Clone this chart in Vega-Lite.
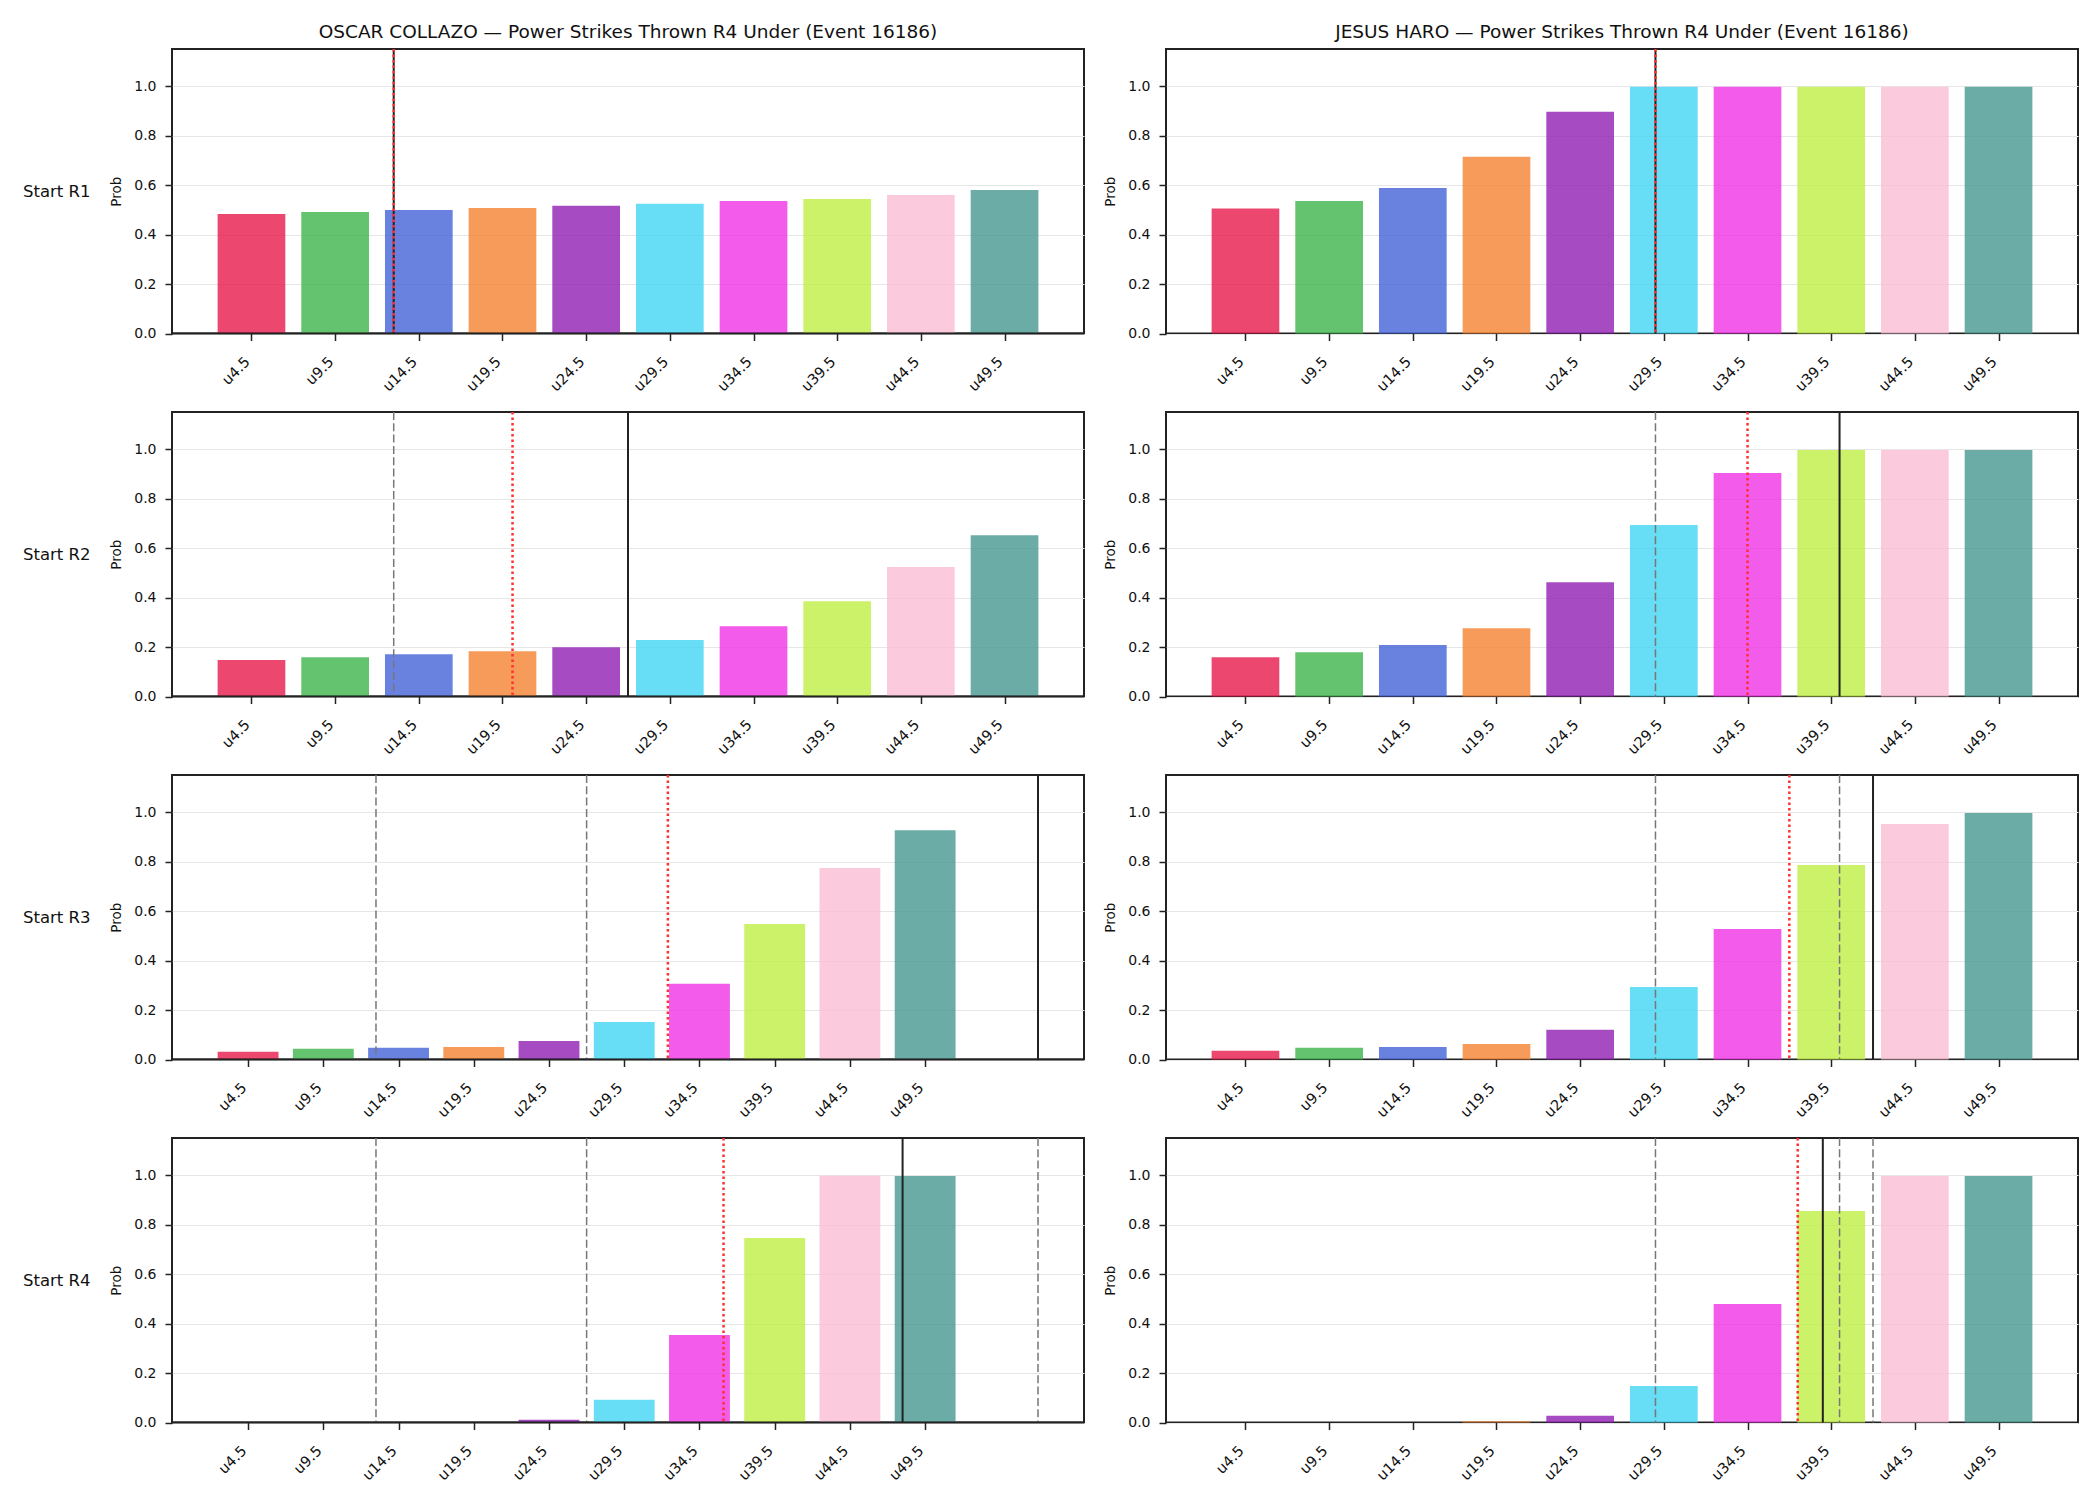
{
  "$schema": "https://vega.github.io/schema/vega-lite/v6.json",
  "padding": {"left": 21, "top": 22, "right": 10, "bottom": 10},
  "background": "white",
  "datasets": {
    "bars": [
      {"player": "OSCAR COLLAZO", "round": "R1", "bucket": "u4.5", "line": 4.5, "prob": 0.483},
      {"player": "OSCAR COLLAZO", "round": "R1", "bucket": "u9.5", "line": 9.5, "prob": 0.491},
      {"player": "OSCAR COLLAZO", "round": "R1", "bucket": "u14.5", "line": 14.5, "prob": 0.499},
      {"player": "OSCAR COLLAZO", "round": "R1", "bucket": "u19.5", "line": 19.5, "prob": 0.507},
      {"player": "OSCAR COLLAZO", "round": "R1", "bucket": "u24.5", "line": 24.5, "prob": 0.516},
      {"player": "OSCAR COLLAZO", "round": "R1", "bucket": "u29.5", "line": 29.5, "prob": 0.524},
      {"player": "OSCAR COLLAZO", "round": "R1", "bucket": "u34.5", "line": 34.5, "prob": 0.536},
      {"player": "OSCAR COLLAZO", "round": "R1", "bucket": "u39.5", "line": 39.5, "prob": 0.544},
      {"player": "OSCAR COLLAZO", "round": "R1", "bucket": "u44.5", "line": 44.5, "prob": 0.560},
      {"player": "OSCAR COLLAZO", "round": "R1", "bucket": "u49.5", "line": 49.5, "prob": 0.580},
      {"player": "OSCAR COLLAZO", "round": "R2", "bucket": "u4.5", "line": 4.5, "prob": 0.148},
      {"player": "OSCAR COLLAZO", "round": "R2", "bucket": "u9.5", "line": 9.5, "prob": 0.159},
      {"player": "OSCAR COLLAZO", "round": "R2", "bucket": "u14.5", "line": 14.5, "prob": 0.171},
      {"player": "OSCAR COLLAZO", "round": "R2", "bucket": "u19.5", "line": 19.5, "prob": 0.183},
      {"player": "OSCAR COLLAZO", "round": "R2", "bucket": "u24.5", "line": 24.5, "prob": 0.199},
      {"player": "OSCAR COLLAZO", "round": "R2", "bucket": "u29.5", "line": 29.5, "prob": 0.228},
      {"player": "OSCAR COLLAZO", "round": "R2", "bucket": "u34.5", "line": 34.5, "prob": 0.284},
      {"player": "OSCAR COLLAZO", "round": "R2", "bucket": "u39.5", "line": 39.5, "prob": 0.385},
      {"player": "OSCAR COLLAZO", "round": "R2", "bucket": "u44.5", "line": 44.5, "prob": 0.523},
      {"player": "OSCAR COLLAZO", "round": "R2", "bucket": "u49.5", "line": 49.5, "prob": 0.652},
      {"player": "OSCAR COLLAZO", "round": "R3", "bucket": "u4.5", "line": 4.5, "prob": 0.031},
      {"player": "OSCAR COLLAZO", "round": "R3", "bucket": "u9.5", "line": 9.5, "prob": 0.043},
      {"player": "OSCAR COLLAZO", "round": "R3", "bucket": "u14.5", "line": 14.5, "prob": 0.047},
      {"player": "OSCAR COLLAZO", "round": "R3", "bucket": "u19.5", "line": 19.5, "prob": 0.051},
      {"player": "OSCAR COLLAZO", "round": "R3", "bucket": "u24.5", "line": 24.5, "prob": 0.075},
      {"player": "OSCAR COLLAZO", "round": "R3", "bucket": "u29.5", "line": 29.5, "prob": 0.152},
      {"player": "OSCAR COLLAZO", "round": "R3", "bucket": "u34.5", "line": 34.5, "prob": 0.306},
      {"player": "OSCAR COLLAZO", "round": "R3", "bucket": "u39.5", "line": 39.5, "prob": 0.548},
      {"player": "OSCAR COLLAZO", "round": "R3", "bucket": "u44.5", "line": 44.5, "prob": 0.774},
      {"player": "OSCAR COLLAZO", "round": "R3", "bucket": "u49.5", "line": 49.5, "prob": 0.927},
      {"player": "OSCAR COLLAZO", "round": "R4", "bucket": "u4.5", "line": 4.5, "prob": 0.0},
      {"player": "OSCAR COLLAZO", "round": "R4", "bucket": "u9.5", "line": 9.5, "prob": 0.0},
      {"player": "OSCAR COLLAZO", "round": "R4", "bucket": "u14.5", "line": 14.5, "prob": 0.0},
      {"player": "OSCAR COLLAZO", "round": "R4", "bucket": "u19.5", "line": 19.5, "prob": 0.002},
      {"player": "OSCAR COLLAZO", "round": "R4", "bucket": "u24.5", "line": 24.5, "prob": 0.011},
      {"player": "OSCAR COLLAZO", "round": "R4", "bucket": "u29.5", "line": 29.5, "prob": 0.092},
      {"player": "OSCAR COLLAZO", "round": "R4", "bucket": "u34.5", "line": 34.5, "prob": 0.354},
      {"player": "OSCAR COLLAZO", "round": "R4", "bucket": "u39.5", "line": 39.5, "prob": 0.746},
      {"player": "OSCAR COLLAZO", "round": "R4", "bucket": "u44.5", "line": 44.5, "prob": 0.997},
      {"player": "OSCAR COLLAZO", "round": "R4", "bucket": "u49.5", "line": 49.5, "prob": 0.996},
      {"player": "JESUS HARO", "round": "R1", "bucket": "u4.5", "line": 4.5, "prob": 0.505},
      {"player": "JESUS HARO", "round": "R1", "bucket": "u9.5", "line": 9.5, "prob": 0.536},
      {"player": "JESUS HARO", "round": "R1", "bucket": "u14.5", "line": 14.5, "prob": 0.588},
      {"player": "JESUS HARO", "round": "R1", "bucket": "u19.5", "line": 19.5, "prob": 0.714},
      {"player": "JESUS HARO", "round": "R1", "bucket": "u24.5", "line": 24.5, "prob": 0.896},
      {"player": "JESUS HARO", "round": "R1", "bucket": "u29.5", "line": 29.5, "prob": 0.997},
      {"player": "JESUS HARO", "round": "R1", "bucket": "u34.5", "line": 34.5, "prob": 0.997},
      {"player": "JESUS HARO", "round": "R1", "bucket": "u39.5", "line": 39.5, "prob": 0.997},
      {"player": "JESUS HARO", "round": "R1", "bucket": "u44.5", "line": 44.5, "prob": 0.997},
      {"player": "JESUS HARO", "round": "R1", "bucket": "u49.5", "line": 49.5, "prob": 0.997},
      {"player": "JESUS HARO", "round": "R2", "bucket": "u4.5", "line": 4.5, "prob": 0.159},
      {"player": "JESUS HARO", "round": "R2", "bucket": "u9.5", "line": 9.5, "prob": 0.179},
      {"player": "JESUS HARO", "round": "R2", "bucket": "u14.5", "line": 14.5, "prob": 0.208},
      {"player": "JESUS HARO", "round": "R2", "bucket": "u19.5", "line": 19.5, "prob": 0.276},
      {"player": "JESUS HARO", "round": "R2", "bucket": "u24.5", "line": 24.5, "prob": 0.462},
      {"player": "JESUS HARO", "round": "R2", "bucket": "u29.5", "line": 29.5, "prob": 0.693},
      {"player": "JESUS HARO", "round": "R2", "bucket": "u34.5", "line": 34.5, "prob": 0.903},
      {"player": "JESUS HARO", "round": "R2", "bucket": "u39.5", "line": 39.5, "prob": 0.996},
      {"player": "JESUS HARO", "round": "R2", "bucket": "u44.5", "line": 44.5, "prob": 0.996},
      {"player": "JESUS HARO", "round": "R2", "bucket": "u49.5", "line": 49.5, "prob": 0.996},
      {"player": "JESUS HARO", "round": "R3", "bucket": "u4.5", "line": 4.5, "prob": 0.035},
      {"player": "JESUS HARO", "round": "R3", "bucket": "u9.5", "line": 9.5, "prob": 0.047},
      {"player": "JESUS HARO", "round": "R3", "bucket": "u14.5", "line": 14.5, "prob": 0.051},
      {"player": "JESUS HARO", "round": "R3", "bucket": "u19.5", "line": 19.5, "prob": 0.063},
      {"player": "JESUS HARO", "round": "R3", "bucket": "u24.5", "line": 24.5, "prob": 0.120},
      {"player": "JESUS HARO", "round": "R3", "bucket": "u29.5", "line": 29.5, "prob": 0.293},
      {"player": "JESUS HARO", "round": "R3", "bucket": "u34.5", "line": 34.5, "prob": 0.528},
      {"player": "JESUS HARO", "round": "R3", "bucket": "u39.5", "line": 39.5, "prob": 0.786},
      {"player": "JESUS HARO", "round": "R3", "bucket": "u44.5", "line": 44.5, "prob": 0.952},
      {"player": "JESUS HARO", "round": "R3", "bucket": "u49.5", "line": 49.5, "prob": 0.996},
      {"player": "JESUS HARO", "round": "R4", "bucket": "u4.5", "line": 4.5, "prob": 0.0},
      {"player": "JESUS HARO", "round": "R4", "bucket": "u9.5", "line": 9.5, "prob": 0.0},
      {"player": "JESUS HARO", "round": "R4", "bucket": "u14.5", "line": 14.5, "prob": 0.0},
      {"player": "JESUS HARO", "round": "R4", "bucket": "u19.5", "line": 19.5, "prob": 0.005},
      {"player": "JESUS HARO", "round": "R4", "bucket": "u24.5", "line": 24.5, "prob": 0.027},
      {"player": "JESUS HARO", "round": "R4", "bucket": "u29.5", "line": 29.5, "prob": 0.148},
      {"player": "JESUS HARO", "round": "R4", "bucket": "u34.5", "line": 34.5, "prob": 0.479},
      {"player": "JESUS HARO", "round": "R4", "bucket": "u39.5", "line": 39.5, "prob": 0.855},
      {"player": "JESUS HARO", "round": "R4", "bucket": "u44.5", "line": 44.5, "prob": 0.996},
      {"player": "JESUS HARO", "round": "R4", "bucket": "u49.5", "line": 49.5, "prob": 0.996}
    ],
    "lines": [
      {"player": "OSCAR COLLAZO", "round": "R1", "kind": "current", "x": 13},
      {"player": "OSCAR COLLAZO", "round": "R1", "kind": "projected", "x": 13},
      {"player": "OSCAR COLLAZO", "round": "R2", "kind": "previous", "x": 13},
      {"player": "OSCAR COLLAZO", "round": "R2", "kind": "projected", "x": 20.1},
      {"player": "OSCAR COLLAZO", "round": "R2", "kind": "current", "x": 27},
      {"player": "OSCAR COLLAZO", "round": "R3", "kind": "previous", "x": 13},
      {"player": "OSCAR COLLAZO", "round": "R3", "kind": "previous", "x": 27},
      {"player": "OSCAR COLLAZO", "round": "R3", "kind": "projected", "x": 32.4},
      {"player": "OSCAR COLLAZO", "round": "R3", "kind": "current", "x": 57},
      {"player": "OSCAR COLLAZO", "round": "R4", "kind": "previous", "x": 13},
      {"player": "OSCAR COLLAZO", "round": "R4", "kind": "previous", "x": 27},
      {"player": "OSCAR COLLAZO", "round": "R4", "kind": "previous", "x": 57},
      {"player": "OSCAR COLLAZO", "round": "R4", "kind": "projected", "x": 36.1},
      {"player": "OSCAR COLLAZO", "round": "R4", "kind": "current", "x": 48},
      {"player": "JESUS HARO", "round": "R1", "kind": "current", "x": 29},
      {"player": "JESUS HARO", "round": "R1", "kind": "projected", "x": 29},
      {"player": "JESUS HARO", "round": "R2", "kind": "previous", "x": 29},
      {"player": "JESUS HARO", "round": "R2", "kind": "projected", "x": 34.5},
      {"player": "JESUS HARO", "round": "R2", "kind": "current", "x": 40},
      {"player": "JESUS HARO", "round": "R3", "kind": "previous", "x": 29},
      {"player": "JESUS HARO", "round": "R3", "kind": "previous", "x": 40},
      {"player": "JESUS HARO", "round": "R3", "kind": "projected", "x": 37},
      {"player": "JESUS HARO", "round": "R3", "kind": "current", "x": 42},
      {"player": "JESUS HARO", "round": "R4", "kind": "previous", "x": 29},
      {"player": "JESUS HARO", "round": "R4", "kind": "previous", "x": 40},
      {"player": "JESUS HARO", "round": "R4", "kind": "previous", "x": 42},
      {"player": "JESUS HARO", "round": "R4", "kind": "projected", "x": 37.5},
      {"player": "JESUS HARO", "round": "R4", "kind": "current", "x": 39}
    ]
  },
  "spacing": 14,
  "vconcat": [
    {
      "spacing": 16,
      "hconcat": [
        {
          "width": 912, "height": 284.5,
          "title": "OSCAR COLLAZO — Power Strikes Thrown R4 Under (Event 16186)",
          "resolve": {"axis": {"y": "independent"}},
          "layer": [
            {"data": {"name": "bars"}, "transform": [{"filter": "datum.player === 'OSCAR COLLAZO' && datum.round === 'R1'"}],
             "mark": {"type": "bar", "width": 67.7, "opacity": 0.8},
             "encoding": {
               "x": {"field": "line", "type": "quantitative", "title": null, "scale": {"domain": [0.05, 53.95], "nice": false, "zero": false}, "axis": {"values": [4.5, 9.5, 14.5, 19.5, 24.5, 29.5, 34.5, 39.5, 44.5, 49.5], "labelExpr": "'u' + datum.value"}},
               "y": {"field": "prob", "type": "quantitative", "title": "Prob", "scale": {"domain": [0, 1.15], "nice": false}},
               "color": {"field": "bucket", "type": "nominal", "legend": null, "scale": {"domain": ["u4.5", "u9.5", "u14.5", "u19.5", "u24.5", "u29.5", "u34.5", "u39.5", "u44.5", "u49.5"], "range": ["#e6194b", "#3cb44b", "#4363d8", "#f58231", "#911eb4", "#42d4f4", "#f032e6", "#bfef45", "#fabed4", "#469990"]}}
             }},
            {"data": {"name": "lines"}, "transform": [{"filter": "datum.player === 'OSCAR COLLAZO' && datum.round === 'R1' && datum.kind === 'previous'"}],
             "mark": {"type": "rule", "color": "#777777", "strokeWidth": 1.5, "strokeDash": [8, 3.3]},
             "encoding": {"x": {"field": "x", "type": "quantitative", "title": null}}},
            {"data": {"name": "lines"}, "transform": [{"filter": "datum.player === 'OSCAR COLLAZO' && datum.round === 'R1' && datum.kind === 'current'"}],
             "mark": {"type": "rule", "color": "#222222", "strokeWidth": 2},
             "encoding": {"x": {"field": "x", "type": "quantitative", "title": null}}},
            {"data": {"name": "lines"}, "transform": [{"filter": "datum.player === 'OSCAR COLLAZO' && datum.round === 'R1' && datum.kind === 'projected'"}],
             "mark": {"type": "rule", "color": "#ff3030", "strokeWidth": 2.5, "strokeDash": [2.5, 3]},
             "encoding": {"x": {"field": "x", "type": "quantitative", "title": null}}},
            {"data": {"values": [{}]}, "mark": {"type": "rule", "color": "#222222", "strokeWidth": 2},
             "encoding": {"y": {"datum": 0, "type": "quantitative", "axis": {"title": "Start R1", "orient": "left", "offset": 62, "minExtent": 0, "labels": false, "ticks": false, "domain": false, "grid": false, "titleAngle": 0, "titleAlign": "right", "titleBaseline": "middle", "titlePadding": 20, "titleFontSize": 16.5}}}}
          ]
        },
        {
          "width": 912, "height": 284.5,
          "title": "JESUS HARO — Power Strikes Thrown R4 Under (Event 16186)",
          "layer": [
            {"data": {"name": "bars"}, "transform": [{"filter": "datum.player === 'JESUS HARO' && datum.round === 'R1'"}],
             "mark": {"type": "bar", "width": 67.7, "opacity": 0.8},
             "encoding": {
               "x": {"field": "line", "type": "quantitative", "title": null, "scale": {"domain": [0.05, 53.95], "nice": false, "zero": false}, "axis": {"values": [4.5, 9.5, 14.5, 19.5, 24.5, 29.5, 34.5, 39.5, 44.5, 49.5], "labelExpr": "'u' + datum.value"}},
               "y": {"field": "prob", "type": "quantitative", "title": "Prob", "scale": {"domain": [0, 1.15], "nice": false}},
               "color": {"field": "bucket", "type": "nominal", "legend": null, "scale": {"domain": ["u4.5", "u9.5", "u14.5", "u19.5", "u24.5", "u29.5", "u34.5", "u39.5", "u44.5", "u49.5"], "range": ["#e6194b", "#3cb44b", "#4363d8", "#f58231", "#911eb4", "#42d4f4", "#f032e6", "#bfef45", "#fabed4", "#469990"]}}
             }},
            {"data": {"name": "lines"}, "transform": [{"filter": "datum.player === 'JESUS HARO' && datum.round === 'R1' && datum.kind === 'previous'"}],
             "mark": {"type": "rule", "color": "#777777", "strokeWidth": 1.5, "strokeDash": [8, 3.3]},
             "encoding": {"x": {"field": "x", "type": "quantitative", "title": null}}},
            {"data": {"name": "lines"}, "transform": [{"filter": "datum.player === 'JESUS HARO' && datum.round === 'R1' && datum.kind === 'current'"}],
             "mark": {"type": "rule", "color": "#222222", "strokeWidth": 2},
             "encoding": {"x": {"field": "x", "type": "quantitative", "title": null}}},
            {"data": {"name": "lines"}, "transform": [{"filter": "datum.player === 'JESUS HARO' && datum.round === 'R1' && datum.kind === 'projected'"}],
             "mark": {"type": "rule", "color": "#ff3030", "strokeWidth": 2.5, "strokeDash": [2.5, 3]},
             "encoding": {"x": {"field": "x", "type": "quantitative", "title": null}}}
          ]
        }
      ]
    },
    {
      "spacing": 16,
      "hconcat": [
        {
          "width": 912, "height": 284.5,
          "resolve": {"axis": {"y": "independent"}},
          "layer": [
            {"data": {"name": "bars"}, "transform": [{"filter": "datum.player === 'OSCAR COLLAZO' && datum.round === 'R2'"}],
             "mark": {"type": "bar", "width": 67.7, "opacity": 0.8},
             "encoding": {
               "x": {"field": "line", "type": "quantitative", "title": null, "scale": {"domain": [0.05, 53.95], "nice": false, "zero": false}, "axis": {"values": [4.5, 9.5, 14.5, 19.5, 24.5, 29.5, 34.5, 39.5, 44.5, 49.5], "labelExpr": "'u' + datum.value"}},
               "y": {"field": "prob", "type": "quantitative", "title": "Prob", "scale": {"domain": [0, 1.15], "nice": false}},
               "color": {"field": "bucket", "type": "nominal", "legend": null, "scale": {"domain": ["u4.5", "u9.5", "u14.5", "u19.5", "u24.5", "u29.5", "u34.5", "u39.5", "u44.5", "u49.5"], "range": ["#e6194b", "#3cb44b", "#4363d8", "#f58231", "#911eb4", "#42d4f4", "#f032e6", "#bfef45", "#fabed4", "#469990"]}}
             }},
            {"data": {"name": "lines"}, "transform": [{"filter": "datum.player === 'OSCAR COLLAZO' && datum.round === 'R2' && datum.kind === 'previous'"}],
             "mark": {"type": "rule", "color": "#777777", "strokeWidth": 1.5, "strokeDash": [8, 3.3]},
             "encoding": {"x": {"field": "x", "type": "quantitative", "title": null}}},
            {"data": {"name": "lines"}, "transform": [{"filter": "datum.player === 'OSCAR COLLAZO' && datum.round === 'R2' && datum.kind === 'current'"}],
             "mark": {"type": "rule", "color": "#222222", "strokeWidth": 2},
             "encoding": {"x": {"field": "x", "type": "quantitative", "title": null}}},
            {"data": {"name": "lines"}, "transform": [{"filter": "datum.player === 'OSCAR COLLAZO' && datum.round === 'R2' && datum.kind === 'projected'"}],
             "mark": {"type": "rule", "color": "#ff3030", "strokeWidth": 2.5, "strokeDash": [2.5, 3]},
             "encoding": {"x": {"field": "x", "type": "quantitative", "title": null}}},
            {"data": {"values": [{}]}, "mark": {"type": "rule", "color": "#222222", "strokeWidth": 2},
             "encoding": {"y": {"datum": 0, "type": "quantitative", "axis": {"title": "Start R2", "orient": "left", "offset": 62, "minExtent": 0, "labels": false, "ticks": false, "domain": false, "grid": false, "titleAngle": 0, "titleAlign": "right", "titleBaseline": "middle", "titlePadding": 20, "titleFontSize": 16.5}}}}
          ]
        },
        {
          "width": 912, "height": 284.5,
          "layer": [
            {"data": {"name": "bars"}, "transform": [{"filter": "datum.player === 'JESUS HARO' && datum.round === 'R2'"}],
             "mark": {"type": "bar", "width": 67.7, "opacity": 0.8},
             "encoding": {
               "x": {"field": "line", "type": "quantitative", "title": null, "scale": {"domain": [0.05, 53.95], "nice": false, "zero": false}, "axis": {"values": [4.5, 9.5, 14.5, 19.5, 24.5, 29.5, 34.5, 39.5, 44.5, 49.5], "labelExpr": "'u' + datum.value"}},
               "y": {"field": "prob", "type": "quantitative", "title": "Prob", "scale": {"domain": [0, 1.15], "nice": false}},
               "color": {"field": "bucket", "type": "nominal", "legend": null, "scale": {"domain": ["u4.5", "u9.5", "u14.5", "u19.5", "u24.5", "u29.5", "u34.5", "u39.5", "u44.5", "u49.5"], "range": ["#e6194b", "#3cb44b", "#4363d8", "#f58231", "#911eb4", "#42d4f4", "#f032e6", "#bfef45", "#fabed4", "#469990"]}}
             }},
            {"data": {"name": "lines"}, "transform": [{"filter": "datum.player === 'JESUS HARO' && datum.round === 'R2' && datum.kind === 'previous'"}],
             "mark": {"type": "rule", "color": "#777777", "strokeWidth": 1.5, "strokeDash": [8, 3.3]},
             "encoding": {"x": {"field": "x", "type": "quantitative", "title": null}}},
            {"data": {"name": "lines"}, "transform": [{"filter": "datum.player === 'JESUS HARO' && datum.round === 'R2' && datum.kind === 'current'"}],
             "mark": {"type": "rule", "color": "#222222", "strokeWidth": 2},
             "encoding": {"x": {"field": "x", "type": "quantitative", "title": null}}},
            {"data": {"name": "lines"}, "transform": [{"filter": "datum.player === 'JESUS HARO' && datum.round === 'R2' && datum.kind === 'projected'"}],
             "mark": {"type": "rule", "color": "#ff3030", "strokeWidth": 2.5, "strokeDash": [2.5, 3]},
             "encoding": {"x": {"field": "x", "type": "quantitative", "title": null}}}
          ]
        }
      ]
    },
    {
      "spacing": 16,
      "hconcat": [
        {
          "width": 912, "height": 284.5,
          "resolve": {"axis": {"y": "independent"}},
          "layer": [
            {"data": {"name": "bars"}, "transform": [{"filter": "datum.player === 'OSCAR COLLAZO' && datum.round === 'R3'"}],
             "mark": {"type": "bar", "width": 60.85, "opacity": 0.8},
             "encoding": {
               "x": {"field": "line", "type": "quantitative", "title": null, "scale": {"domain": [-0.225, 59.725], "nice": false, "zero": false}, "axis": {"values": [4.5, 9.5, 14.5, 19.5, 24.5, 29.5, 34.5, 39.5, 44.5, 49.5], "labelExpr": "'u' + datum.value"}},
               "y": {"field": "prob", "type": "quantitative", "title": "Prob", "scale": {"domain": [0, 1.15], "nice": false}},
               "color": {"field": "bucket", "type": "nominal", "legend": null, "scale": {"domain": ["u4.5", "u9.5", "u14.5", "u19.5", "u24.5", "u29.5", "u34.5", "u39.5", "u44.5", "u49.5"], "range": ["#e6194b", "#3cb44b", "#4363d8", "#f58231", "#911eb4", "#42d4f4", "#f032e6", "#bfef45", "#fabed4", "#469990"]}}
             }},
            {"data": {"name": "lines"}, "transform": [{"filter": "datum.player === 'OSCAR COLLAZO' && datum.round === 'R3' && datum.kind === 'previous'"}],
             "mark": {"type": "rule", "color": "#777777", "strokeWidth": 1.5, "strokeDash": [8, 3.3]},
             "encoding": {"x": {"field": "x", "type": "quantitative", "title": null}}},
            {"data": {"name": "lines"}, "transform": [{"filter": "datum.player === 'OSCAR COLLAZO' && datum.round === 'R3' && datum.kind === 'current'"}],
             "mark": {"type": "rule", "color": "#222222", "strokeWidth": 2},
             "encoding": {"x": {"field": "x", "type": "quantitative", "title": null}}},
            {"data": {"name": "lines"}, "transform": [{"filter": "datum.player === 'OSCAR COLLAZO' && datum.round === 'R3' && datum.kind === 'projected'"}],
             "mark": {"type": "rule", "color": "#ff3030", "strokeWidth": 2.5, "strokeDash": [2.5, 3]},
             "encoding": {"x": {"field": "x", "type": "quantitative", "title": null}}},
            {"data": {"values": [{}]}, "mark": {"type": "rule", "color": "#222222", "strokeWidth": 2},
             "encoding": {"y": {"datum": 0, "type": "quantitative", "axis": {"title": "Start R3", "orient": "left", "offset": 62, "minExtent": 0, "labels": false, "ticks": false, "domain": false, "grid": false, "titleAngle": 0, "titleAlign": "right", "titleBaseline": "middle", "titlePadding": 20, "titleFontSize": 16.5}}}}
          ]
        },
        {
          "width": 912, "height": 284.5,
          "layer": [
            {"data": {"name": "bars"}, "transform": [{"filter": "datum.player === 'JESUS HARO' && datum.round === 'R3'"}],
             "mark": {"type": "bar", "width": 67.7, "opacity": 0.8},
             "encoding": {
               "x": {"field": "line", "type": "quantitative", "title": null, "scale": {"domain": [0.05, 53.95], "nice": false, "zero": false}, "axis": {"values": [4.5, 9.5, 14.5, 19.5, 24.5, 29.5, 34.5, 39.5, 44.5, 49.5], "labelExpr": "'u' + datum.value"}},
               "y": {"field": "prob", "type": "quantitative", "title": "Prob", "scale": {"domain": [0, 1.15], "nice": false}},
               "color": {"field": "bucket", "type": "nominal", "legend": null, "scale": {"domain": ["u4.5", "u9.5", "u14.5", "u19.5", "u24.5", "u29.5", "u34.5", "u39.5", "u44.5", "u49.5"], "range": ["#e6194b", "#3cb44b", "#4363d8", "#f58231", "#911eb4", "#42d4f4", "#f032e6", "#bfef45", "#fabed4", "#469990"]}}
             }},
            {"data": {"name": "lines"}, "transform": [{"filter": "datum.player === 'JESUS HARO' && datum.round === 'R3' && datum.kind === 'previous'"}],
             "mark": {"type": "rule", "color": "#777777", "strokeWidth": 1.5, "strokeDash": [8, 3.3]},
             "encoding": {"x": {"field": "x", "type": "quantitative", "title": null}}},
            {"data": {"name": "lines"}, "transform": [{"filter": "datum.player === 'JESUS HARO' && datum.round === 'R3' && datum.kind === 'current'"}],
             "mark": {"type": "rule", "color": "#222222", "strokeWidth": 2},
             "encoding": {"x": {"field": "x", "type": "quantitative", "title": null}}},
            {"data": {"name": "lines"}, "transform": [{"filter": "datum.player === 'JESUS HARO' && datum.round === 'R3' && datum.kind === 'projected'"}],
             "mark": {"type": "rule", "color": "#ff3030", "strokeWidth": 2.5, "strokeDash": [2.5, 3]},
             "encoding": {"x": {"field": "x", "type": "quantitative", "title": null}}}
          ]
        }
      ]
    },
    {
      "spacing": 16,
      "hconcat": [
        {
          "width": 912, "height": 284.5,
          "resolve": {"axis": {"y": "independent"}},
          "layer": [
            {"data": {"name": "bars"}, "transform": [{"filter": "datum.player === 'OSCAR COLLAZO' && datum.round === 'R4'"}],
             "mark": {"type": "bar", "width": 60.85, "opacity": 0.8},
             "encoding": {
               "x": {"field": "line", "type": "quantitative", "title": null, "scale": {"domain": [-0.225, 59.725], "nice": false, "zero": false}, "axis": {"values": [4.5, 9.5, 14.5, 19.5, 24.5, 29.5, 34.5, 39.5, 44.5, 49.5], "labelExpr": "'u' + datum.value"}},
               "y": {"field": "prob", "type": "quantitative", "title": "Prob", "scale": {"domain": [0, 1.15], "nice": false}},
               "color": {"field": "bucket", "type": "nominal", "legend": null, "scale": {"domain": ["u4.5", "u9.5", "u14.5", "u19.5", "u24.5", "u29.5", "u34.5", "u39.5", "u44.5", "u49.5"], "range": ["#e6194b", "#3cb44b", "#4363d8", "#f58231", "#911eb4", "#42d4f4", "#f032e6", "#bfef45", "#fabed4", "#469990"]}}
             }},
            {"data": {"name": "lines"}, "transform": [{"filter": "datum.player === 'OSCAR COLLAZO' && datum.round === 'R4' && datum.kind === 'previous'"}],
             "mark": {"type": "rule", "color": "#777777", "strokeWidth": 1.5, "strokeDash": [8, 3.3]},
             "encoding": {"x": {"field": "x", "type": "quantitative", "title": null}}},
            {"data": {"name": "lines"}, "transform": [{"filter": "datum.player === 'OSCAR COLLAZO' && datum.round === 'R4' && datum.kind === 'current'"}],
             "mark": {"type": "rule", "color": "#222222", "strokeWidth": 2},
             "encoding": {"x": {"field": "x", "type": "quantitative", "title": null}}},
            {"data": {"name": "lines"}, "transform": [{"filter": "datum.player === 'OSCAR COLLAZO' && datum.round === 'R4' && datum.kind === 'projected'"}],
             "mark": {"type": "rule", "color": "#ff3030", "strokeWidth": 2.5, "strokeDash": [2.5, 3]},
             "encoding": {"x": {"field": "x", "type": "quantitative", "title": null}}},
            {"data": {"values": [{}]}, "mark": {"type": "rule", "color": "#222222", "strokeWidth": 2},
             "encoding": {"y": {"datum": 0, "type": "quantitative", "axis": {"title": "Start R4", "orient": "left", "offset": 62, "minExtent": 0, "labels": false, "ticks": false, "domain": false, "grid": false, "titleAngle": 0, "titleAlign": "right", "titleBaseline": "middle", "titlePadding": 20, "titleFontSize": 16.5}}}}
          ]
        },
        {
          "width": 912, "height": 284.5,
          "layer": [
            {"data": {"name": "bars"}, "transform": [{"filter": "datum.player === 'JESUS HARO' && datum.round === 'R4'"}],
             "mark": {"type": "bar", "width": 67.7, "opacity": 0.8},
             "encoding": {
               "x": {"field": "line", "type": "quantitative", "title": null, "scale": {"domain": [0.05, 53.95], "nice": false, "zero": false}, "axis": {"values": [4.5, 9.5, 14.5, 19.5, 24.5, 29.5, 34.5, 39.5, 44.5, 49.5], "labelExpr": "'u' + datum.value"}},
               "y": {"field": "prob", "type": "quantitative", "title": "Prob", "scale": {"domain": [0, 1.15], "nice": false}},
               "color": {"field": "bucket", "type": "nominal", "legend": null, "scale": {"domain": ["u4.5", "u9.5", "u14.5", "u19.5", "u24.5", "u29.5", "u34.5", "u39.5", "u44.5", "u49.5"], "range": ["#e6194b", "#3cb44b", "#4363d8", "#f58231", "#911eb4", "#42d4f4", "#f032e6", "#bfef45", "#fabed4", "#469990"]}}
             }},
            {"data": {"name": "lines"}, "transform": [{"filter": "datum.player === 'JESUS HARO' && datum.round === 'R4' && datum.kind === 'previous'"}],
             "mark": {"type": "rule", "color": "#777777", "strokeWidth": 1.5, "strokeDash": [8, 3.3]},
             "encoding": {"x": {"field": "x", "type": "quantitative", "title": null}}},
            {"data": {"name": "lines"}, "transform": [{"filter": "datum.player === 'JESUS HARO' && datum.round === 'R4' && datum.kind === 'current'"}],
             "mark": {"type": "rule", "color": "#222222", "strokeWidth": 2},
             "encoding": {"x": {"field": "x", "type": "quantitative", "title": null}}},
            {"data": {"name": "lines"}, "transform": [{"filter": "datum.player === 'JESUS HARO' && datum.round === 'R4' && datum.kind === 'projected'"}],
             "mark": {"type": "rule", "color": "#ff3030", "strokeWidth": 2.5, "strokeDash": [2.5, 3]},
             "encoding": {"x": {"field": "x", "type": "quantitative", "title": null}}}
          ]
        }
      ]
    }
  ],
  "config": {
    "font": "DejaVu Sans",
    "view": {"stroke": "#222222", "strokeWidth": 2},
    "axis": {"labelFont": "DejaVu Sans", "labelFontSize": 14, "labelColor": "#111111", "tickColor": "#222222", "tickSize": 7, "tickWidth": 1.5, "domain": false, "titleFont": "DejaVu Sans", "titleFontWeight": "normal", "titleColor": "#111111", "titleFontSize": 13.5},
    "axisX": {"grid": false, "labelAngle": -45, "labelAlign": "right", "labelBaseline": "middle", "labelPadding": 19, "labelOffset": -4, "labelFontSize": 14.5},
    "axisY": {"grid": true, "gridColor": "#e6e6e6", "gridWidth": 1, "labelPadding": 9, "titlePadding": 10, "values": [0, 0.2, 0.4, 0.6, 0.8, 1.0], "format": ".1f"},
    "title": {"font": "DejaVu Sans", "fontSize": 18.5, "fontWeight": "normal", "color": "#111111", "anchor": "middle", "frame": "group", "offset": 6, "baseline": "alphabetic"}
  }
}
